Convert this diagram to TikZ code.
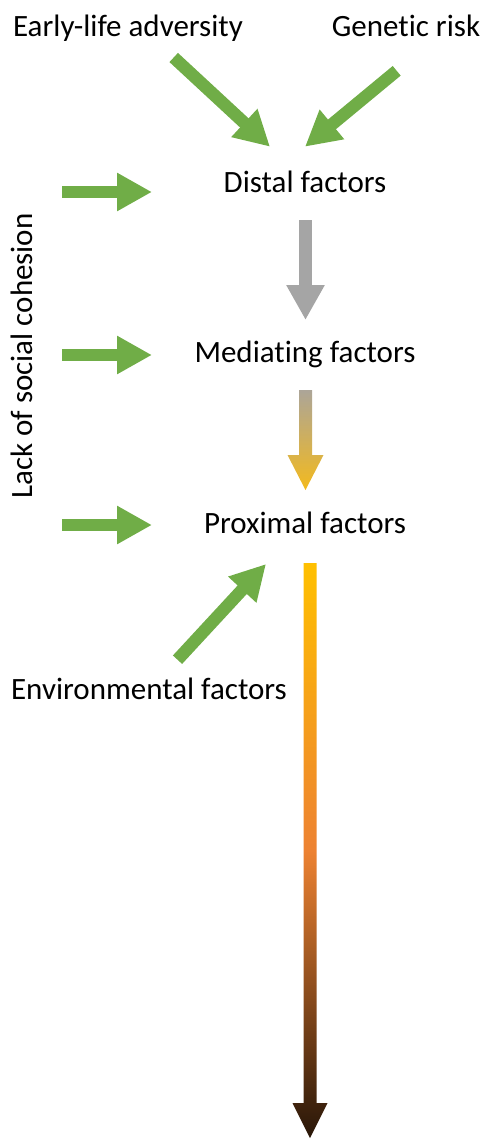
\documentclass[tikz,border=0pt]{standalone}
\usepackage{fontspec}
\setmainfont{Carlito}[Ligatures={NoCommon,NoRare,NoContextual},Contextuals=NoAlternate]
\usepackage{tikz}
\usetikzlibrary{arrows.meta,calc}

\definecolor{arrowgreen}{RGB}{112,173,71}
\definecolor{arrowgray}{RGB}{165,165,165}
\definecolor{warmgray}{RGB}{172,165,152}
\definecolor{gold}{RGB}{255,192,0}
\definecolor{darkgold}{RGB}{243,186,30}
\definecolor{deeporange}{RGB}{237,130,50}
\definecolor{darkbrown}{RGB}{40,22,8}

\begin{document}
\begin{tikzpicture}[
  x=1pt, y=-1pt,
  factor/.style={
    anchor=base, inner sep=0pt,
    font=\fontsize{31}{37}\selectfont
  },
  blockarrow/.style={
    draw=arrowgreen, line width=12.5pt,
    -{Triangle[length=35pt,width=36pt]}
  },
  grayarrow/.style={blockarrow, draw=arrowgray}
]

\useasboundingbox (0,0) rectangle (490,1146);

% =====================================================
% LABELS
% =====================================================

\node[factor] (early) at (128,36) {Early-life adversity};
\node[factor] (genetic) at (406,36) {Genetic risk};
\node[factor] (distal) at (305,192) {Distal factors};
\node[factor] (mediating) at (305,362) {Mediating factors};
\node[factor] (proximal) at (305,533) {Proximal factors};
\node[factor] (environ) at (149,699) {Environmental factors};
\node[factor, rotate=90] (cohesion) at (32,356) {Lack of social cohesion};

% =====================================================
% ARROW ENDS
% =====================================================

\coordinate (early-out) at (173.7,57.5);
\coordinate (distal-inl) at (270,146.7);
\coordinate (genetic-out) at (396.7,70.8);
\coordinate (distal-inr) at (305,146.7);
\coordinate (env-out) at (177.5,659.7);
\coordinate (prox-inl) at (266,564);

\coordinate (coh-a) at (62,192);
\coordinate (distal-in) at (152,192);
\coordinate (coh-b) at (62,355);
\coordinate (mediating-in) at (152,355);
\coordinate (coh-c) at (62,525);
\coordinate (proximal-in) at (152,525);

\coordinate (distal-out) at (305.5,220);
\coordinate (mediating-top) at (305.5,320);
\coordinate (mediating-out) at (305.5,390);
\coordinate (proximal-top) at (305.5,490);
\coordinate (proximal-out) at (310,563);
\coordinate (outcome) at (310,1138);

% =====================================================
% GREEN ARROWS
% =====================================================

\draw[blockarrow] (early-out) -- (distal-inl);
\draw[blockarrow] (genetic-out) -- (distal-inr);
\draw[blockarrow] (env-out) -- (prox-inl);

\draw[blockarrow] (coh-a) -- (distal-in);
\draw[blockarrow] (coh-b) -- (mediating-in);
\draw[blockarrow] (coh-c) -- (proximal-in);

% =====================================================
% DOWNWARD CHAIN
% =====================================================

\draw[grayarrow] (distal-out) -- (mediating-top);

\shade[top color=warmgray, bottom color=darkgold]
  ($(mediating-out)+(-6.5,0)$) -- ($(proximal-top)+(-6.5,-35)$)
  -- ($(proximal-top)+(-18,-35)$) -- (proximal-top)
  -- ($(proximal-top)+(18,-35)$) -- ($(proximal-top)+(6.5,-35)$)
  -- ($(mediating-out)+(6.5,0)$) -- cycle;

\shade[top color=gold, bottom color=darkbrown, middle color=deeporange]
  ($(proximal-out)+(-6.5,0)$) -- ($(outcome)+(-6.5,-35)$)
  -- ($(outcome)+(-17.5,-35)$) -- (outcome)
  -- ($(outcome)+(17.5,-35)$) -- ($(outcome)+(6.5,-35)$)
  -- ($(proximal-out)+(6.5,0)$) -- cycle;

\end{tikzpicture}
\end{document}
